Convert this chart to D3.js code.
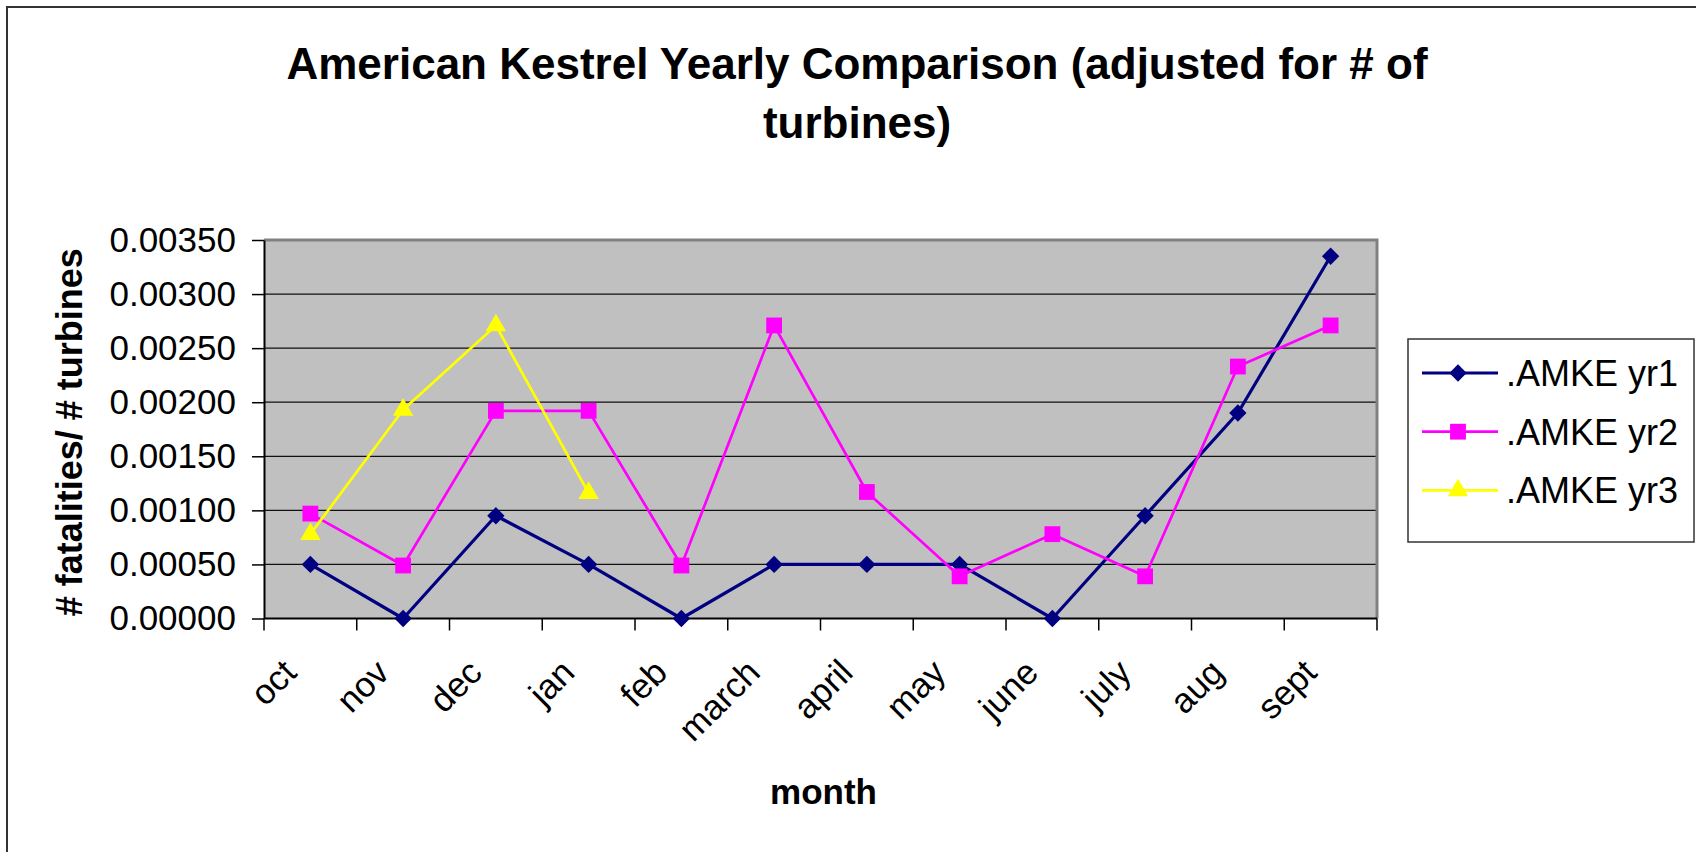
<!DOCTYPE html>
<html>
<head>
<meta charset="utf-8">
<script src="https://cdn.jsdelivr.net/npm/d3@7"></script>
<style>
  body { margin: 0; background: #fff; }
  svg { display: block; font-family: "Liberation Sans", Arial, sans-serif; }
</style>
</head>
<body>
<div id="chart"></div>
<script>
const months = ["oct", "nov", "dec", "jan", "feb", "march", "april", "may", "june", "july", "aug", "sept"];
const yr1 = [0.0005, 0, 0.00095, 0.0005, 0, 0.0005, 0.0005, 0.0005, 0, 0.00095, 0.0019, 0.00335];
const yr2 = [0.00097, 0.00049, 0.00192, 0.00192, 0.00049, 0.00271, 0.00117, 0.00039, 0.00078, 0.00039, 0.00233, 0.00271];
const yr3 = [0.00078, 0.00193, 0.00271, 0.00116];
const yTicks = [0, 0.0005, 0.001, 0.0015, 0.002, 0.0025, 0.003, 0.0035];
const seriesNames = [".AMKE yr1", ".AMKE yr2", ".AMKE yr3"];

const width = 1696, height = 852;
const plot = { left: 264, right: 1377, top: 240, bottom: 618.5 };

const series = [
  { name: seriesNames[0], values: yr1, color: "#000080", width: 3.2, shape: "diamond" },
  { name: seriesNames[1], values: yr2, color: "#FF00FF", width: 2.7, shape: "square" },
  { name: seriesNames[2], values: yr3, color: "#FFFF00", width: 2.7, shape: "triangle" }
];

const svg = d3.select("#chart").append("svg")
  .attr("width", width)
  .attr("height", height);

// outer chart border (runs off right / bottom edge)
svg.append("rect")
  .attr("x", 7).attr("y", 7)
  .attr("width", width + 20).attr("height", height + 20)
  .attr("fill", "#fff")
  .attr("stroke", "#333")
  .attr("stroke-width", 2);

const x = d3.scaleBand()
  .domain(months)
  .range([plot.left, plot.right]);

const y = d3.scaleLinear()
  .domain([0, 0.0035])
  .range([plot.bottom, plot.top]);

// plot area
svg.append("rect")
  .attr("x", plot.left).attr("y", plot.top)
  .attr("width", plot.right - plot.left)
  .attr("height", plot.bottom - plot.top)
  .attr("fill", "#C0C0C0");

// gridlines
svg.append("g").selectAll("line")
  .data(yTicks.slice(1))
  .join("line")
  .attr("x1", plot.left).attr("x2", plot.right)
  .attr("y1", d => y(d)).attr("y2", d => y(d))
  .attr("stroke", "#111")
  .attr("stroke-width", 1.2);

// plot border top/right
svg.append("path")
  .attr("d", `M${plot.left},${plot.top}H${plot.right}V${plot.bottom}`)
  .attr("fill", "none")
  .attr("stroke", "#808080")
  .attr("stroke-width", 3);

// y axis
const yAxis = svg.append("g")
  .attr("transform", `translate(${plot.left},0)`)
  .call(d3.axisLeft(y)
    .tickValues(yTicks)
    .tickFormat(d3.format(".5f"))
    .tickSize(12)
    .tickSizeOuter(0)
    .tickPadding(16));
yAxis.select(".domain").attr("stroke", "#000").attr("stroke-width", 2);
yAxis.selectAll(".tick line").attr("stroke", "#000").attr("stroke-width", 1.5);
yAxis.selectAll(".tick text")
  .attr("font-size", 35)
  .attr("font-family", "Liberation Sans, Arial, sans-serif")
  .attr("fill", "#000");

// x axis (ticks on category boundaries)
const xAxis = svg.append("g");
xAxis.append("line")
  .attr("x1", plot.left).attr("x2", plot.right)
  .attr("y1", plot.bottom).attr("y2", plot.bottom)
  .attr("stroke", "#000").attr("stroke-width", 2);
const bounds = months.map(m => x(m)).concat([x.range()[1]]);
xAxis.selectAll(".xtick")
  .data(bounds)
  .join("line")
  .attr("class", "xtick")
  .attr("x1", d => d).attr("x2", d => d)
  .attr("y1", plot.bottom).attr("y2", plot.bottom + 12)
  .attr("stroke", "#000").attr("stroke-width", 1.5);
xAxis.selectAll(".xlabel")
  .data(months)
  .join("text")
  .attr("class", "xlabel")
  .attr("transform", d => `translate(${x(d) + x.bandwidth() / 2 - 12},${plot.bottom + 56}) rotate(-45)`)
  .attr("text-anchor", "end")
  .attr("font-size", 35)
  .text(d => d);

// lines and markers
const line = d3.line()
  .x((d, i) => x(months[i]) + x.bandwidth() / 2)
  .y(d => y(d));

const symbolFor = {
  diamond: d3.symbol(d3.symbolSquare, 150),
  square: d3.symbol(d3.symbolSquare, 250),
  triangle: d3.symbol(d3.symbolTriangle, 180)
};
const rotFor = { diamond: 45, square: 0, triangle: 0 };

series.forEach(s => {
  const g = svg.append("g");
  g.append("path")
    .datum(s.values)
    .attr("d", line)
    .attr("fill", "none")
    .attr("stroke", s.color)
    .attr("stroke-width", s.width)
    .attr("stroke-linejoin", "round");
  g.selectAll("path.mark")
    .data(s.values)
    .join("path")
    .attr("class", "mark")
    .attr("d", symbolFor[s.shape])
    .attr("transform", (d, i) => `translate(${x(months[i]) + x.bandwidth() / 2},${y(d)}) rotate(${rotFor[s.shape]})`)
    .attr("fill", s.color);
});

// title
const title = svg.append("text")
  .attr("x", 857)
  .attr("text-anchor", "middle")
  .attr("font-size", 44)
  .attr("font-weight", "bold");
title.append("tspan").attr("x", 857).attr("y", 79).text("American Kestrel Yearly Comparison (adjusted for # of");
title.append("tspan").attr("x", 857).attr("y", 138).text("turbines)");

// axis titles
svg.append("text")
  .attr("transform", `translate(82,${(plot.top + plot.bottom) / 2 + 3}) rotate(-90)`)
  .attr("text-anchor", "middle")
  .attr("font-size", 36)
  .attr("font-weight", "bold")
  .text("# fatalities/ # turbines");

svg.append("text")
  .attr("x", (plot.left + plot.right) / 2 + 3)
  .attr("y", 804)
  .attr("text-anchor", "middle")
  .attr("font-size", 35)
  .attr("font-weight", "bold")
  .text("month");

// legend
const legend = svg.append("g").attr("transform", "translate(1408,339)");
legend.append("rect")
  .attr("width", 286).attr("height", 203)
  .attr("fill", "#fff")
  .attr("stroke", "#333")
  .attr("stroke-width", 1.5);
const item = legend.selectAll("g.item")
  .data(series)
  .join("g")
  .attr("class", "item")
  .attr("transform", (d, i) => `translate(0,${34 + i * 58.7})`);
item.append("line")
  .attr("x1", 14).attr("x2", 90)
  .attr("stroke", d => d.color)
  .attr("stroke-width", d => d.width);
item.append("path")
  .attr("d", d => symbolFor[d.shape]())
  .attr("transform", d => `translate(50,0) rotate(${rotFor[d.shape]})`)
  .attr("fill", d => d.color);
item.append("text")
  .attr("x", 98)
  .attr("dy", "0.36em")
  .attr("font-size", 36)
  .text(d => d.name);
</script>
</body>
</html>
